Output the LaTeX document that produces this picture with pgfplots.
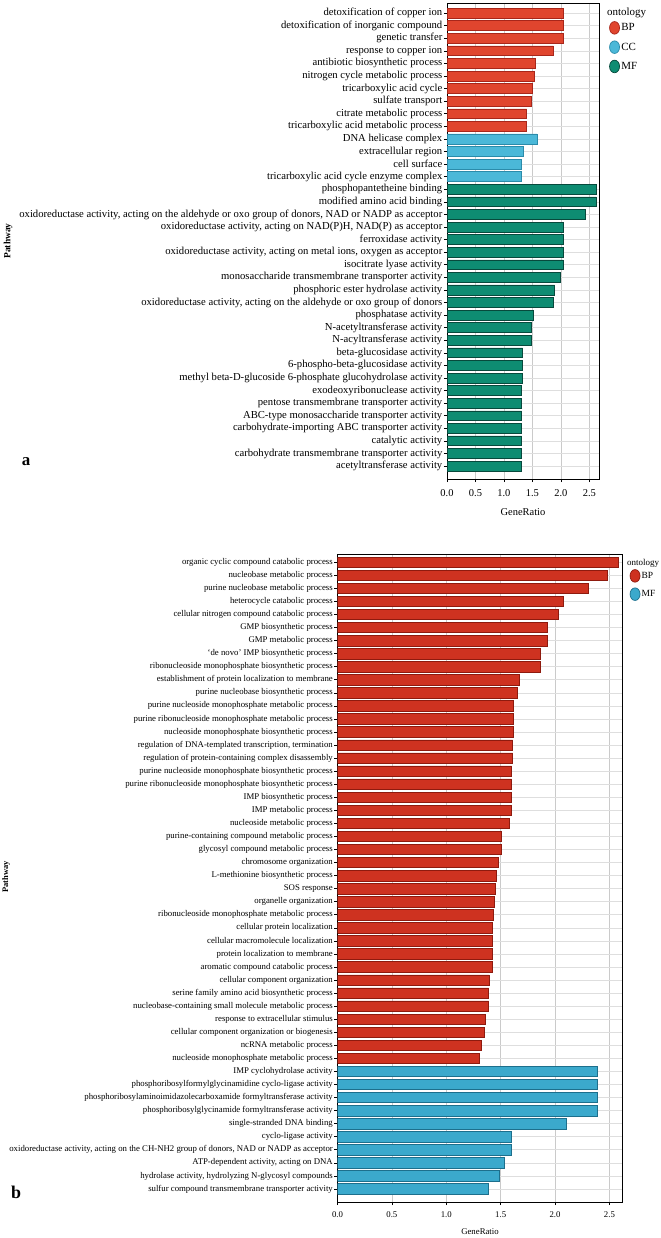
\documentclass[border=0pt]{standalone}
\usepackage{fontspec}
\setmainfont{Liberation Serif}
\usepackage{pgfplots}
\pgfplotsset{compat=1.18}
\definecolor{bpA}{HTML}{E0452E}
\definecolor{bpAd}{HTML}{A8261A}
\definecolor{ccA}{HTML}{4BB8D8}
\definecolor{ccAd}{HTML}{2B8BAA}
\definecolor{mfA}{HTML}{0E8C72}
\definecolor{mfAd}{HTML}{07493C}
\definecolor{bpB}{HTML}{CE3220}
\definecolor{bpBd}{HTML}{8E1A0E}
\definecolor{mfB}{HTML}{3BA9CC}
\definecolor{mfBd}{HTML}{1D6F8C}
\definecolor{gridc}{HTML}{CACACA}
\definecolor{gridh}{HTML}{DEDEDE}
\pgfplotsset{
  goplot/.style={
    scale only axis, xbar, y dir=reverse,
    axis line style={black, line width=0.8bp},
    tick style={black, line width=0.6bp},
    tick align=outside, major tick length=3bp, tick pos=left,
    xmajorgrids, ymajorgrids,
    major x grid style={gridc, line width=0.7bp},
    major y grid style={gridh, line width=0.6bp},
    /pgf/number format/assume math mode=true,
    xtick={0,0.5,1,1.5,2,2.5},
    xticklabel={\pgfmathprintnumber[fixed,fixed zerofill,precision=1]{\tick}},
    legend cell align=left,
    legend image code/.code={\draw[#1, line width=0.7bp] (5bp,0bp) ellipse (5bp and 6.3bp);},
  },
  gobar/.style 2 args={fill=#1, draw=#2, line width=0.6bp, bar shift=0pt},
}
\begin{document}
\begin{tikzpicture}
\useasboundingbox (0bp,0bp) rectangle (661bp,-1238bp);
% ---------------- panel a ----------------
\begin{axis}[goplot,
  at={(447bp,-3bp)}, anchor=north west,
  width=152bp, height=476bp,
  xmin=0, xmax=2.67, ymin=-0.8, ymax=37.03,
  ytick={0,...,36}, bar width=0.78,
  yticklabel style={font=\fontsize{10.7}{11}\selectfont, inner sep=1.5bp},
  xticklabel style={font=\fontsize{10.5}{11}\selectfont, yshift=-4bp},
  xlabel={GeneRatio}, xlabel style={font=\fontsize{10.5}{11}\selectfont, yshift=-5bp},
  yticklabels={
    {detoxification of copper ion},
    {detoxification of inorganic compound},
    {genetic transfer},
    {response to copper ion},
    {antibiotic biosynthetic process},
    {nitrogen cycle metabolic process},
    {tricarboxylic acid cycle},
    {sulfate transport},
    {citrate metabolic process},
    {tricarboxylic acid metabolic process},
    {DNA helicase complex},
    {extracellular region},
    {cell surface},
    {tricarboxylic acid cycle enzyme complex},
    {phosphopantetheine binding},
    {modified amino acid binding},
    {oxidoreductase activity, acting on the aldehyde or oxo group of donors, NAD or NADP as acceptor},
    {oxidoreductase activity, acting on NAD(P)H, NAD(P) as acceptor},
    {ferroxidase activity},
    {oxidoreductase activity, acting on metal ions, oxygen as acceptor},
    {isocitrate lyase activity},
    {monosaccharide transmembrane transporter activity},
    {phosphoric ester hydrolase activity},
    {oxidoreductase activity, acting on the aldehyde or oxo group of donors},
    {phosphatase activity},
    {N-acetyltransferase activity},
    {N-acyltransferase activity},
    {beta-glucosidase activity},
    {6-phospho-beta-glucosidase activity},
    {methyl beta-D-glucoside 6-phosphate glucohydrolase activity},
    {exodeoxyribonuclease activity},
    {pentose transmembrane transporter activity},
    {ABC-type monosaccharide transporter activity},
    {carbohydrate-importing ABC transporter activity},
    {catalytic activity},
    {carbohydrate transmembrane transporter activity},
    {acetyltransferase activity}},
  legend style={at={(1,1)}, anchor=north west, xshift=10bp, yshift=-18bp,
    draw=none, fill=none, font=\fontsize{11}{11}\selectfont, row sep=6bp, inner sep=0pt,
    nodes={inner sep=1.5bp}},
]
\addplot[gobar={bpA}{bpAd}] coordinates {
 (2.04,0) (2.04,1) (2.04,2) (1.87,3) (1.545,4) (1.53,5) (1.50,6) (1.48,7) (1.40,8) (1.40,9)};
\addlegendentry{BP}
\addplot[gobar={ccA}{ccAd}] coordinates {
 (1.58,10) (1.34,11) (1.31,12) (1.31,13)};
\addlegendentry{CC}
\addplot[gobar={mfA}{mfAd}] coordinates {
 (2.62,14) (2.62,15) (2.43,16) (2.04,17) (2.04,18) (2.04,19) (2.04,20) (1.99,21) (1.89,22) (1.86,23)
 (1.51,24) (1.48,25) (1.48,26) (1.33,27) (1.33,28) (1.33,29) (1.31,30) (1.31,31) (1.31,32) (1.31,33)
 (1.31,34) (1.31,35) (1.31,36)};
\addlegendentry{MF}
\end{axis}
\node[anchor=west, font=\fontsize{11}{11}\selectfont, inner sep=0pt] at (607bp,-13bp) {ontology};
\node[rotate=90, font=\bfseries\fontsize{9.5}{10}\selectfont] at (8bp,-241bp) {Pathway};
\node[font=\bfseries\fontsize{17}{18}\selectfont] at (26bp,-462bp) {a};
% ---------------- panel b ----------------
\begin{axis}[goplot,
  at={(337.5bp,-554bp)}, anchor=north west,
  width=285bp, height=648bp,
  xmin=0, xmax=2.62, ymin=-0.63, ymax=49,
  ytick={0,...,48}, bar width=0.8,
  yticklabel style={font=\fontsize{8.8}{9}\selectfont, inner sep=1.5bp},
  xticklabel style={font=\fontsize{8.8}{9}\selectfont, yshift=-3bp},
  xlabel={GeneRatio}, xlabel style={font=\fontsize{8.8}{9}\selectfont, yshift=-4bp},
  yticklabels={
    {organic cyclic compound catabolic process},
    {nucleobase metabolic process},
    {purine nucleobase metabolic process},
    {heterocycle catabolic process},
    {cellular nitrogen compound catabolic process},
    {GMP biosynthetic process},
    {GMP metabolic process},
    {`de novo' IMP biosynthetic process},
    {ribonucleoside monophosphate biosynthetic process},
    {establishment of protein localization to membrane},
    {purine nucleobase biosynthetic process},
    {purine nucleoside monophosphate metabolic process},
    {purine ribonucleoside monophosphate metabolic process},
    {nucleoside monophosphate biosynthetic process},
    {regulation of DNA-templated transcription, termination},
    {regulation of protein-containing complex disassembly},
    {purine nucleoside monophosphate biosynthetic process},
    {purine ribonucleoside monophosphate biosynthetic process},
    {IMP biosynthetic process},
    {IMP metabolic process},
    {nucleoside metabolic process},
    {purine-containing compound metabolic process},
    {glycosyl compound metabolic process},
    {chromosome organization},
    {L-methionine biosynthetic process},
    {SOS response},
    {organelle organization},
    {ribonucleoside monophosphate metabolic process},
    {cellular protein localization},
    {cellular macromolecule localization},
    {protein localization to membrane},
    {aromatic compound catabolic process},
    {cellular component organization},
    {serine family amino acid biosynthetic process},
    {nucleobase-containing small molecule metabolic process},
    {response to extracellular stimulus},
    {cellular component organization or biogenesis},
    {ncRNA metabolic process},
    {nucleoside monophosphate metabolic process},
    {IMP cyclohydrolase activity},
    {phosphoribosylformylglycinamidine cyclo-ligase activity},
    {phosphoribosylaminoimidazolecarboxamide formyltransferase activity},
    {phosphoribosylglycinamide formyltransferase activity},
    {single-stranded DNA binding},
    {cyclo-ligase activity},
    {oxidoreductase activity, acting on the CH-NH2 group of donors, NAD or NADP as acceptor},
    {ATP-dependent activity, acting on DNA},
    {hydrolase activity, hydrolyzing N-glycosyl compounds},
    {sulfur compound transmembrane transporter activity}},
  legend style={at={(1,1)}, anchor=north west, xshift=7bp, yshift=-15bp,
    draw=none, fill=none, font=\fontsize{9.5}{10}\selectfont, row sep=5bp, inner sep=0pt,
    nodes={inner sep=1.2bp}},
]
\addplot[gobar={bpB}{bpBd}] coordinates {
 (2.58,0) (2.48,1) (2.31,2) (2.08,3) (2.03,4) (1.93,5) (1.93,6) (1.86,7) (1.86,8) (1.67,9)
 (1.65,10) (1.62,11) (1.62,12) (1.62,13) (1.61,14) (1.61,15) (1.60,16) (1.60,17) (1.60,18) (1.60,19)
 (1.58,20) (1.51,21) (1.51,22) (1.48,23) (1.46,24) (1.45,25) (1.44,26) (1.43,27) (1.42,28) (1.42,29)
 (1.42,30) (1.42,31) (1.395,32) (1.39,33) (1.39,34) (1.36,35) (1.35,36) (1.32,37) (1.30,38)};
\addlegendentry{BP}
\addplot[gobar={mfB}{mfBd}] coordinates {
 (2.39,39) (2.39,40) (2.39,41) (2.39,42) (2.10,43) (1.60,44) (1.60,45) (1.53,46) (1.49,47) (1.39,48)};
\addlegendentry{MF}
\end{axis}
\node[anchor=west, font=\fontsize{9}{10}\selectfont, inner sep=0pt] at (627bp,-563bp) {ontology};
\node[rotate=90, font=\bfseries\fontsize{8.5}{9}\selectfont] at (6bp,-877bp) {Pathway};
\node[font=\bfseries\fontsize{18}{19}\selectfont] at (16bp,-1192bp) {b};
\end{tikzpicture}
\end{document}
